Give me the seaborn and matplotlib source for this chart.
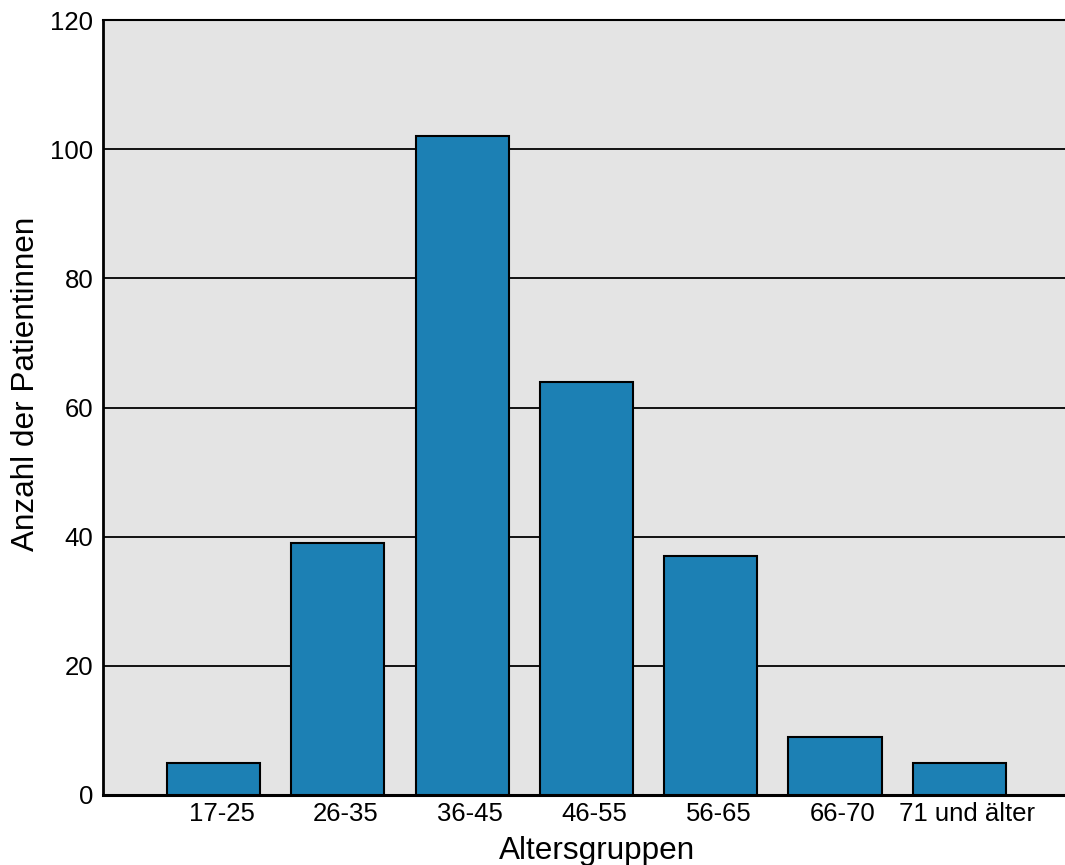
import matplotlib
matplotlib.use("Agg")
import matplotlib.pyplot as plt
import matplotlib.transforms as mtransforms
import seaborn as sns
import pandas as pd

categories = ["17-25", "26-35", "36-45", "46-55", "56-65", "66-70", "71 und älter"]
values = [5, 39, 102, 64, 37, 9, 5]
yticks = [0, 20, 40, 60, 80, 100, 120]

sns.set_style("white")
plt.rcParams["font.family"] = ["Liberation Sans", "DejaVu Sans"]

df = pd.DataFrame({"Altersgruppen": categories, "Anzahl": values})

fig = plt.figure(figsize=(10.65, 8.65), dpi=100)
ax = fig.add_axes([103/1065, 70/865, 962/1065, 775/865])
ax.set_facecolor("#e4e4e4")

sns.barplot(data=df, x="Altersgruppen", y="Anzahl", color="#1c80b4",
            saturation=1, width=0.75, edgecolor="black", linewidth=1.5,
            ax=ax, zorder=3)

ax.set_xlim(-0.889, 6.85)
ax.set_ylim(0, 120)
ax.set_yticks(yticks)
ax.set_yticklabels([str(v) for v in yticks])
ax.yaxis.grid(True, color="black", linewidth=1.3, zorder=0)
ax.set_axisbelow(True)
ax.xaxis.grid(False)

ax.spines["right"].set_visible(False)
ax.spines["top"].set_linewidth(1.5)
ax.spines["left"].set_linewidth(2)
ax.spines["bottom"].set_linewidth(2.2)
for s in ["top", "left", "bottom"]:
    ax.spines[s].set_color("black")

ax.tick_params(axis="both", length=0, labelsize=18.5, colors="black")
ax.tick_params(axis="y", pad=7)
ax.tick_params(axis="x", pad=5)

offset = mtransforms.ScaledTranslation(8/100, 0, fig.dpi_scale_trans)
for lbl in ax.get_xticklabels():
    lbl.set_transform(lbl.get_transform() + offset)

ax.set_xlabel("Altersgruppen", fontsize=22.7, color="black")
ax.set_ylabel("Anzahl der Patientinnen", fontsize=22.7, color="black")
ax.xaxis.set_label_coords(0.5135, -0.053)
ax.yaxis.set_label_coords(-0.064, 0.53)

fig.savefig("out.png", dpi=100)
